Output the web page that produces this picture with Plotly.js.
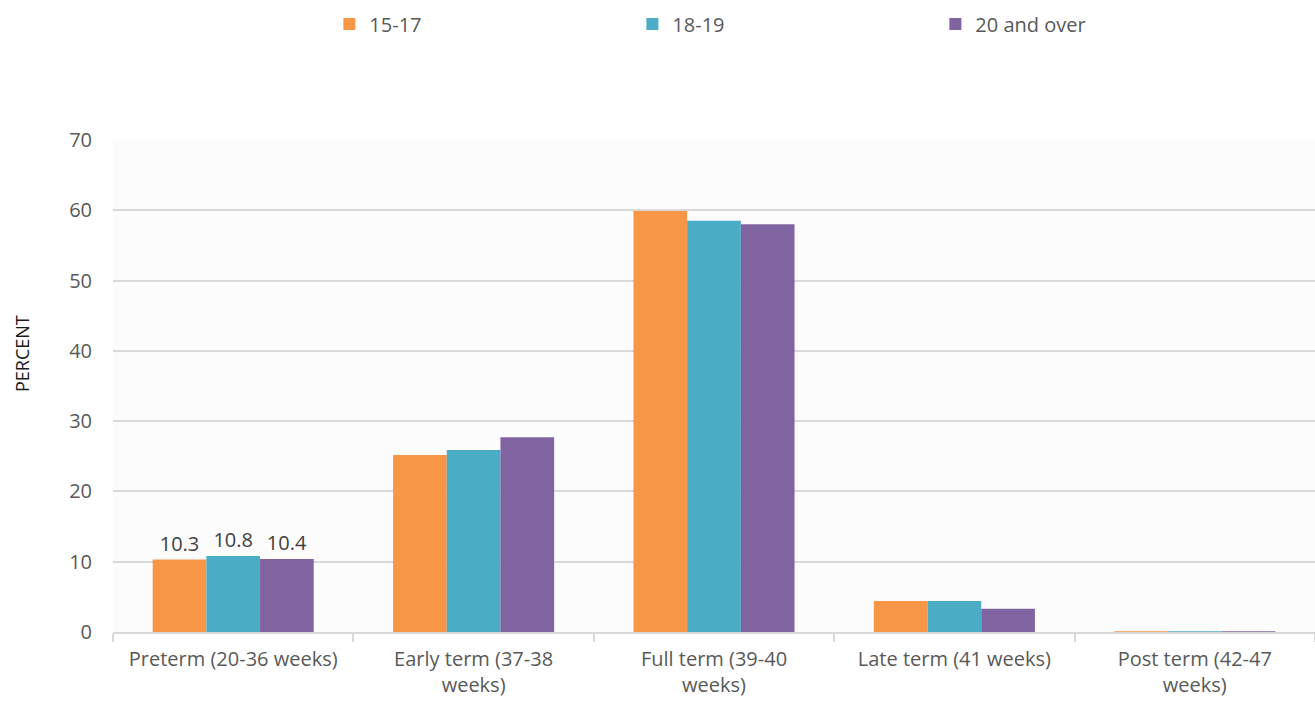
<!DOCTYPE html>
<html>
<head>
<meta charset="utf-8">
<script src="https://cdn.plot.ly/plotly-3.0.1.min.js"></script>
<style>html,body{margin:0;padding:0;background:#fff;}#chart{width:1315px;height:702px;}</style>
</head>
<body>
<div id="chart"></div>
<script>
const categories = ["Preterm (20-36 weeks)", "Early term (37-38<br>weeks)", "Full term (39-40<br>weeks)", "Late term (41 weeks)", "Post term (42-47<br>weeks)"];
const seriesNames = ["15-17", "18-19", "20 and over"];
const values1517 = [10.3, 25.2, 59.9, 4.4, 0.1];
const values1819 = [10.8, 25.9, 58.5, 4.4, 0.1];
const values20plus = [10.4, 27.7, 58.0, 3.3, 0.1];
const labels1517 = ["10.3", "", "", "", ""];
const labels1819 = ["10.8", "", "", "", ""];
const labels20plus = ["10.4", "", "", "", ""];
const colors = ["#F79646", "#4BACC6", "#8064A2"];
const yTitle = "PERCENT";

const font = "'Open Sans', Lato, sans-serif";
const allValues = [values1517, values1819, values20plus];
const allLabels = [labels1517, labels1819, labels20plus];

const traces = seriesNames.map((name, i) => ({
  type: "bar",
  name: name,
  x: categories,
  y: allValues[i],
  text: allLabels[i],
  textposition: "outside",
  cliponaxis: false,
  textfont: {family: font, size: 20, color: "#404040"},
  marker: {color: colors[i]},
  hoverinfo: "x+y+name"
}));

const layout = {
  width: 1315,
  height: 702,
  margin: {l: 113, r: 0, t: 140, b: 70, autoexpand: false},
  paper_bgcolor: "#ffffff",
  plot_bgcolor: "#fcfcfc",
  barmode: "group",
  bargap: 0.33,
  bargroupgap: 0,
  font: {family: font, color: "#595959", size: 20},
  showlegend: true,
  legend: {
    orientation: "h",
    x: 0.18, xanchor: "left",
    y: 1.236, yanchor: "middle",
    entrywidth: 258,
    font: {family: font, size: 20, color: "#595959"},
    itemwidth: 30,
    traceorder: "normal"
  },
  xaxis: {
    type: "category",
    showgrid: false,
    showline: true,
    linecolor: "#d9d9d9",
    linewidth: 2,
    ticks: "outside",
    tickson: "boundaries",
    ticklen: 8,
    tickcolor: "#d9d9d9",
    tickwidth: 2,
    ticklabelstandoff: 8,
    tickfont: {family: font, size: 20, color: "#595959"},
    fixedrange: true
  },
  yaxis: {
    range: [0, 70],
    dtick: 10,
    showgrid: true,
    gridcolor: "#d9d9d9",
    gridwidth: 2,
    zeroline: false,
    showline: false,
    ticks: "",
    ticklabelstandoff: 20,
    tickfont: {family: font, size: 20, color: "#595959"},
    fixedrange: true
  },
  annotations: [{
    text: yTitle,
    xref: "paper", yref: "paper",
    x: -0.0757, y: 0.565,
    xanchor: "center", yanchor: "middle",
    textangle: -90,
    showarrow: false,
    font: {family: font, size: 18, color: "#1a1a1a"}
  }]
};

Plotly.newPlot("chart", traces, layout, {displayModeBar: false, staticPlot: true});
</script>
</body>
</html>
